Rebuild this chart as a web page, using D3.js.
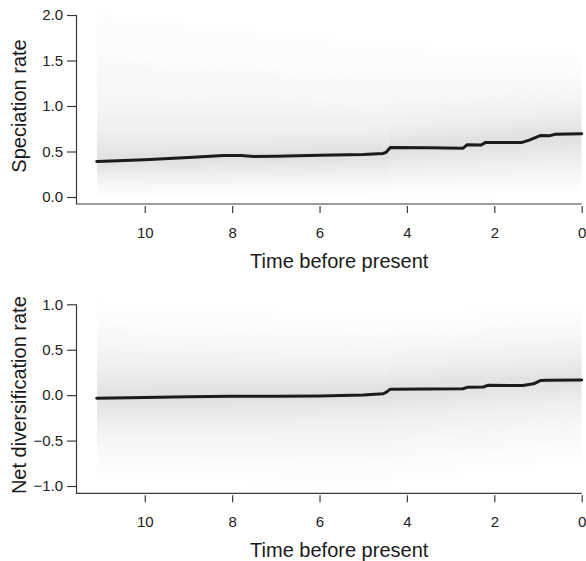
<!DOCTYPE html>
<html>
<head>
<meta charset="utf-8">
<script src="https://cdn.jsdelivr.net/npm/d3@7"></script>
<style>
  html, body { margin: 0; padding: 0; background: #fff; }
  svg { display: block; font-family: "Liberation Sans", Arial, Helvetica, sans-serif; }
</style>
</head>
<body>
<svg id="chart" width="586" height="561"></svg>
<script>
// ---------------- DATA ----------------
const xTicks = [10, 8, 6, 4, 2, 0];
const speciationTicks = [0.0, 0.5, 1.0, 1.5, 2.0];
const netDivTicks = [-1.0, -0.5, 0.0, 0.5, 1.0];

// mean rate through time (time before present, rate)
const speciationTime  = [11.1, 10, 9, 8.2, 7.8, 7.5, 7, 6, 5, 4.55, 4.48, 4.38, 3.5, 2.72, 2.62, 2.3, 2.2, 1.38, 1.2, 0.95, 0.75, 0.6, 0];
const speciationRate  = [0.39, 0.41, 0.435, 0.455, 0.455, 0.445, 0.447, 0.458, 0.468, 0.478, 0.49, 0.545, 0.54, 0.535, 0.575, 0.572, 0.6, 0.598, 0.625, 0.675, 0.672, 0.69, 0.695];

const netDivTime = [11.1, 10, 9, 8, 7, 6, 5, 4.55, 4.48, 4.38, 3.5, 2.72, 2.6, 2.25, 2.15, 1.35, 1.1, 0.95, 0.8, 0];
const netDivRate = [-0.035, -0.025, -0.018, -0.013, -0.013, -0.01, 0.002, 0.015, 0.03, 0.066, 0.068, 0.07, 0.088, 0.09, 0.108, 0.107, 0.125, 0.16, 0.165, 0.168];

// posterior density envelopes (lower, upper) at band times, widest first
const bandTime = [11.1, 4.42, 4.38, 0];
const speciationBandLow = [
  [0.03, 0.04, 0.05, 0.08],
  [0.08, 0.10, 0.11, 0.16],
  [0.14, 0.16, 0.18, 0.25],
  [0.19, 0.22, 0.25, 0.33],
  [0.24, 0.28, 0.31, 0.41],
  [0.28, 0.33, 0.37, 0.48],
  [0.31, 0.38, 0.42, 0.55],
  [0.34, 0.42, 0.46, 0.61]
];
const speciationBandHigh = [
  [2.00, 1.65, 1.65, 1.55],
  [1.50, 1.30, 1.32, 1.30],
  [1.10, 1.00, 1.05, 1.15],
  [0.85, 0.85, 0.90, 1.02],
  [0.70, 0.72, 0.77, 0.93],
  [0.60, 0.64, 0.69, 0.86],
  [0.52, 0.58, 0.63, 0.80],
  [0.46, 0.54, 0.59, 0.76]
];
const netDivBandLow = [
  [-0.90, -0.95, -0.92, -0.70],
  [-0.70, -0.72, -0.70, -0.50],
  [-0.52, -0.52, -0.50, -0.32],
  [-0.40, -0.38, -0.36, -0.18],
  [-0.30, -0.27, -0.24, -0.07],
  [-0.22, -0.18, -0.15, 0.01],
  [-0.15, -0.10, -0.08, 0.07],
  [-0.09, -0.04, -0.02, 0.12]
];
const netDivBandHigh = [
  [1.00, 0.85, 0.88, 0.95],
  [0.75, 0.65, 0.68, 0.80],
  [0.55, 0.50, 0.53, 0.65],
  [0.40, 0.38, 0.41, 0.53],
  [0.28, 0.28, 0.31, 0.43],
  [0.18, 0.20, 0.23, 0.35],
  [0.10, 0.14, 0.16, 0.28],
  [0.03, 0.09, 0.11, 0.23]
];

// ---------------- DRAWING ----------------
const svg = d3.select("#chart");
const defs = svg.append("defs");
defs.append("filter").attr("id", "vblur")
  .attr("x", "-5%").attr("y", "-20%").attr("width", "110%").attr("height", "140%")
  .append("feGaussianBlur").attr("stdDeviation", "0.3 5");

const x = d3.scaleLinear().domain([11.1, 0]).range([96.7, 581.7]);
const axisLeftX = 76.5;

function panel(cfg) {
  const y = d3.scaleLinear().domain(cfg.yDomain).range(cfg.yRange);
  const g = svg.append("g");

  // density bands
  const bands = g.append("g").attr("filter", "url(#vblur)");
  const area = d3.area()
    .x(d => x(d.t)).y0(d => y(d.lo)).y1(d => y(d.hi));
  cfg.bandLow.forEach((lowArr, i) => {
    const pts = bandTime.map((t, j) => ({ t: t, lo: lowArr[j], hi: cfg.bandHigh[i][j] }));
    bands.append("path").attr("d", area(pts))
      .attr("fill", "#000").attr("fill-opacity", i === 0 ? 0.012 : 0.019);
  });

  // mean line
  const line = d3.line().x(d => x(d[0])).y(d => y(d[1]));
  const pts = cfg.time.map((t, i) => [t, cfg.rate[i]]);
  g.append("path").attr("d", line(pts))
    .attr("fill", "none").attr("stroke", "#1b1b1b")
    .attr("stroke-width", 3).attr("stroke-linejoin", "round").attr("stroke-linecap", "round");

  // L-shaped frame
  const yTop = y(cfg.yDomain[1]);
  const xAxisY = cfg.xAxisY;
  g.append("path")
    .attr("d", `M${axisLeftX},${yTop}V${xAxisY}H${x(0)}`)
    .attr("fill", "none").attr("stroke", "#3a3a3a").attr("stroke-width", 1.2);

  // y axis
  const ya = g.append("g").attr("transform", `translate(${axisLeftX},0)`)
    .call(d3.axisLeft(y).tickValues(cfg.yTicks).tickFormat(d3.format(".1f"))
      .tickSize(9.5).tickPadding(4));
  ya.select(".domain").remove();
  ya.selectAll("line").attr("stroke", "#3a3a3a").attr("stroke-width", 1.2);
  ya.selectAll("text").attr("font-size", 15).attr("fill", "#222")
    .attr("font-family", "'Liberation Sans', Arial, sans-serif")
    .text(d => d3.format(".1f")(d).replace("-", "\u2212"));

  // x axis
  const xa = g.append("g").attr("transform", `translate(0,${xAxisY + 2})`)
    .call(d3.axisBottom(x).tickValues(xTicks).tickFormat(d3.format("d"))
      .tickSize(7).tickPadding(14));
  xa.select(".domain").remove();
  xa.selectAll("line").attr("stroke", "#3a3a3a").attr("stroke-width", 1.2);
  xa.selectAll("text").attr("font-size", 15).attr("fill", "#222")
    .attr("font-family", "'Liberation Sans', Arial, sans-serif");

  // titles
  g.append("text").attr("x", (x(11.1) + x(0)) / 2).attr("y", xAxisY + 64)
    .attr("text-anchor", "middle").attr("font-size", 20).attr("fill", "#1a1a1a")
    .text("Time before present");
  const yMid = (cfg.yRange[0] + cfg.yRange[1]) / 2;
  g.append("text").attr("transform", `translate(${cfg.yLabelX},${yMid}) rotate(-90)`)
    .attr("text-anchor", "middle").attr("font-size", 20).attr("fill", "#1a1a1a")
    .text(cfg.yLabel);
}

panel({
  yDomain: [0, 2], yRange: [197, 15], yTicks: speciationTicks,
  bandLow: speciationBandLow, bandHigh: speciationBandHigh,
  time: speciationTime, rate: speciationRate,
  xAxisY: 204, yLabel: "Speciation rate", yLabelX: 26
});
panel({
  yDomain: [-1, 1], yRange: [486, 304.3], yTicks: netDivTicks,
  bandLow: netDivBandLow, bandHigh: netDivBandHigh,
  time: netDivTime, rate: netDivRate,
  xAxisY: 493.3, yLabel: "Net diversification rate", yLabelX: 25.5
});
</script>
</body>
</html>
